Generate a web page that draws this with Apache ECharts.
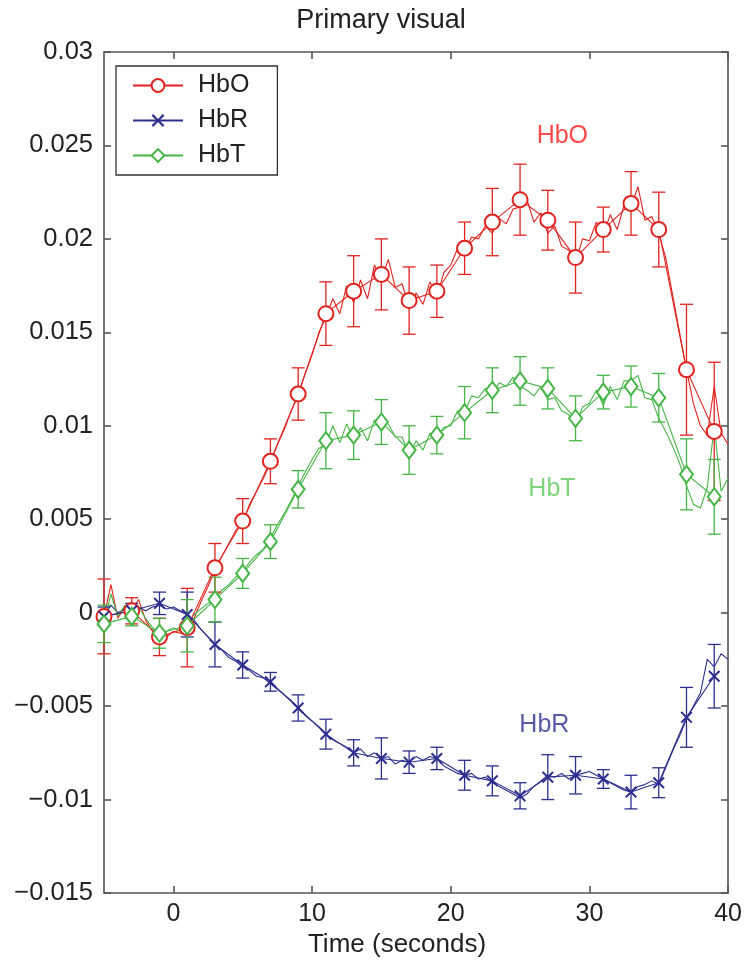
<!DOCTYPE html>
<html>
<head>
<meta charset="utf-8">
<script src="https://cdn.jsdelivr.net/npm/echarts@6/dist/echarts.min.js"></script>
<style>html,body{margin:0;padding:0;background:#fff}#c{width:745px;height:969px}</style>
</head>
<body>
<div id="c"></div>
<script>
// ---- data ----
const titleText = 'Primary visual';
const xName = 'Time (seconds)';
const seriesNames = ['HbO', 'HbR', 'HbT'];
const xTicks = [0, 10, 20, 30, 40];

// sampled every 2 s (markers + error bars)
const markerTime = [-5,-3,-1,1,3,5,7,9,11,13,15,17,19,21,23,25,27,29,31,33,35,37,39];
const hboMean = [-0.0002,0.0001,-0.0013,-0.0008,0.0024,0.0049,0.0081,0.0117,0.0160,0.0172,0.0181,0.0167,0.0172,0.0195,0.0209,0.0221,0.0210,0.0190,0.0205,0.0219,0.0205,0.0130,0.0097];
const hboErr  = [0.0020,0.0007,0.0010,0.0021,0.0013,0.0012,0.0012,0.0014,0.0017,0.0019,0.0019,0.0018,0.0014,0.0014,0.0018,0.0019,0.0016,0.0019,0.0012,0.0017,0.0020,0.0035,0.0037];
const hbrMean = [-0.0002,0.0001,0.0005,-0.0001,-0.0017,-0.0028,-0.0037,-0.0051,-0.0065,-0.0075,-0.0078,-0.0080,-0.0078,-0.0087,-0.0090,-0.0098,-0.0088,-0.0087,-0.0089,-0.0096,-0.0091,-0.0056,-0.0034];
const hbrErr  = [0.0005,0.0004,0.0006,0.0012,0.0012,0.0007,0.0005,0.0007,0.0008,0.0007,0.0011,0.0006,0.0006,0.0008,0.0008,0.0007,0.0012,0.0010,0.0005,0.0009,0.0008,0.0016,0.0017];
const hbtMean = [-0.0006,-0.0002,-0.0011,-0.0007,0.0007,0.0021,0.0038,0.0066,0.0092,0.0095,0.0102,0.0087,0.0095,0.0107,0.0119,0.0124,0.0120,0.0104,0.0118,0.0121,0.0115,0.0074,0.0062];
const hbtErr  = [0.0010,0.0005,0.0008,0.0014,0.0012,0.0008,0.0009,0.0010,0.0015,0.0013,0.0012,0.0013,0.0010,0.0014,0.0012,0.0013,0.0011,0.0012,0.0009,0.0011,0.0013,0.0019,0.0020];

// raw traces, every 0.5 s from -5 to 40
const rawStart = -5, rawStep = 0.5;
const hboRaw = [
 -0.0002,0.0015,-0.0003,0.0003,0.0001,0.0007,-0.0004,-0.0010,-0.0012,-0.0013,
 -0.0010,-0.0011,-0.0007,-0.0003,0.0006,0.0014,0.0023,0.0030,0.0037,0.0044,
 0.0048,0.0058,0.0065,0.0072,0.0080,0.0090,0.0098,0.0108,0.0116,0.0128,
 0.0138,0.0150,0.0158,0.0168,0.0160,0.0175,0.0166,0.0178,0.0168,0.0186,
 0.0178,0.0189,0.0174,0.0176,0.0163,0.0171,0.0165,0.0177,0.0169,0.0182,
 0.0186,0.0195,0.0193,0.0201,0.0200,0.0207,0.0203,0.0211,0.0208,0.0216,
 0.0217,0.0221,0.0209,0.0214,0.0203,0.0207,0.0196,0.0194,0.0187,0.0200,
 0.0199,0.0209,0.0202,0.0213,0.0205,0.0218,0.0217,0.0228,0.0210,0.0212,
 0.0203,0.0190,0.0170,0.0150,0.0130,0.0112,0.0100,0.0095,0.0121,0.0096,
 0.0090];
const hbrRaw = [
 -0.0002,0.0004,0.0000,0.0002,0.0002,0.0003,0.0001,0.0003,0.0004,0.0002,
 0.0003,0.0001,-0.0001,-0.0004,-0.0009,-0.0013,-0.0017,-0.0020,-0.0024,-0.0026,
 -0.0029,-0.0031,-0.0034,-0.0035,-0.0038,-0.0041,-0.0044,-0.0047,-0.0051,-0.0055,
 -0.0058,-0.0061,-0.0065,-0.0068,-0.0070,-0.0072,-0.0075,-0.0073,-0.0077,-0.0075,
 -0.0078,-0.0077,-0.0081,-0.0079,-0.0080,-0.0077,-0.0079,-0.0077,-0.0078,-0.0082,
 -0.0084,-0.0086,-0.0087,-0.0086,-0.0089,-0.0088,-0.0091,-0.0093,-0.0095,-0.0097,
 -0.0099,-0.0097,-0.0093,-0.0090,-0.0087,-0.0088,-0.0086,-0.0089,-0.0087,-0.0086,
 -0.0085,-0.0087,-0.0089,-0.0091,-0.0093,-0.0095,-0.0096,-0.0093,-0.0092,-0.0090,
 -0.0092,-0.0083,-0.0074,-0.0066,-0.0057,-0.0050,-0.0043,-0.0025,-0.0029,-0.0022,
 -0.0025];
const hbtRaw = [
 -0.0006,0.0010,-0.0002,0.0004,-0.0001,0.0003,-0.0003,-0.0008,-0.0011,-0.0010,
 -0.0008,-0.0010,-0.0006,-0.0001,0.0002,0.0005,0.0008,0.0012,0.0015,0.0019,
 0.0022,0.0027,0.0031,0.0034,0.0040,0.0047,0.0053,0.0060,0.0068,0.0075,
 0.0082,0.0088,0.0090,0.0100,0.0091,0.0101,0.0093,0.0099,0.0092,0.0103,
 0.0102,0.0101,0.0094,0.0094,0.0084,0.0092,0.0087,0.0096,0.0094,0.0099,
 0.0100,0.0108,0.0107,0.0116,0.0115,0.0120,0.0117,0.0123,0.0121,0.0126,
 0.0121,0.0119,0.0116,0.0121,0.0114,0.0115,0.0108,0.0106,0.0100,0.0110,
 0.0112,0.0119,0.0111,0.0121,0.0114,0.0124,0.0124,0.0127,0.0115,0.0114,
 0.0104,0.0097,0.0089,0.0080,0.0068,0.0058,0.0056,0.0067,0.0100,0.0065,
 0.0072];

// in-plot text labels (data coordinates)
const noteText = ['HbO', 'HbT', 'HbR'];
const noteX = [28.05, 27.3, 26.75];
const noteY = [0.0255, 0.0066, -0.0060];

// ---- styles ----
const colors = { HbO: '#e0231f', HbR: '#2c2f8e', HbT: '#45b545' };
const noteColors = ['#ff1a1a', '#5cc95a', '#2c2f8e'];
const FONT = 'Liberation Sans, Arial, sans-serif';
const xSymbol = 'path://M0,1.2L1.2,0L5,3.8L8.8,0L10,1.2L6.2,5L10,8.8L8.8,10L5,6.2L1.2,10L0,8.8L3.8,5Z';

function pairs(ts, vs) { return ts.map((t, i) => [t, vs[i]]); }
function rawPairs(vs) { return vs.map((v, i) => [rawStart + i * rawStep, v]); }
function errData(ts, m, e) { return ts.map((t, i) => [t, m[i] - e[i], m[i] + e[i]]); }

function errSeries(name, ts, m, e) {
  return {
    type: 'custom', name: name + ' err', silent: true, z: 3,
    data: errData(ts, m, e),
    encode: { x: 0, y: [1, 2] },
    renderItem: function (params, api) {
      const lo = api.coord([api.value(0), api.value(1)]);
      const hi = api.coord([api.value(0), api.value(2)]);
      const w = 6.5;
      const st = { stroke: colors[name], lineWidth: 1.3, fill: null };
      return {
        type: 'group', children: [
          { type: 'line', shape: { x1: lo[0], y1: lo[1], x2: hi[0], y2: hi[1] }, style: st },
          { type: 'line', shape: { x1: lo[0] - w, y1: lo[1], x2: lo[0] + w, y2: lo[1] }, style: st },
          { type: 'line', shape: { x1: hi[0] - w, y1: hi[1], x2: hi[0] + w, y2: hi[1] }, style: st }
        ]
      };
    }
  };
}

function rawSeries(name, vs) {
  return {
    type: 'line', name: name + ' raw', data: rawPairs(vs), showSymbol: false, symbol: 'none',
    silent: true, z: 2, lineStyle: { color: colors[name], width: 1.1 }, animation: false
  };
}

function markSeries(name, vs, symbol, size) {
  const isX = name === 'HbR';
  return {
    type: 'line', name: name, data: pairs(markerTime, vs), symbol: symbol, symbolSize: size,
    showAllSymbol: true, z: 4,
    lineStyle: { color: colors[name], width: 1.1 },
    itemStyle: isX ? { color: colors[name] } : { color: colors[name], borderColor: colors[name], borderWidth: 1.1 },
    animation: false
  };
}

const chart = echarts.init(document.getElementById('c'), null, { renderer: 'canvas' });
const axisLineStyle = { color: '#555', width: 1.6 };
const labelFmt = v => (+(+v).toFixed(4)).toString().replace('-', '\u2212');

chart.setOption({
  backgroundColor: '#fff',
  animation: false,
  title: {
    text: titleText, left: 376, top: 2, textAlign: 'center',
    textStyle: { fontFamily: FONT, fontSize: 27, fontWeight: 'normal', color: '#222' }
  },
  grid: { left: 104, right: 16, top: 52, bottom: 76, containLabel: false },
  legend: {
    data: seriesNames, orient: 'vertical', left: 116, top: 66,
    backgroundColor: '#fff', borderColor: '#333', borderWidth: 1.3,
    padding: [6, 28, 6, 16], itemWidth: 50, itemHeight: 16, itemGap: 8,
    textStyle: { fontFamily: FONT, fontSize: 25, color: '#222', lineHeight: 27, padding: [0, 0, 0, 10] }
  },
  xAxis: [
    {
      type: 'value', min: -5, max: 40, interval: 5, position: 'bottom',
      name: xName, nameLocation: 'middle', nameGap: 38,
      nameTextStyle: { fontFamily: FONT, fontSize: 26, color: '#222', padding: [0, 38, 0, 0] },
      axisLine: { show: true, onZero: false, lineStyle: axisLineStyle },
      axisTick: { show: true, inside: true, length: 7, customValues: xTicks, lineStyle: axisLineStyle },
      axisLabel: { show: true, customValues: xTicks, fontFamily: FONT, fontSize: 25, color: '#222', margin: 9 },
      splitLine: { show: false }
    },
    {
      type: 'value', min: -5, max: 40, interval: 5, position: 'top',
      axisLine: { show: true, onZero: false, lineStyle: axisLineStyle },
      axisTick: { show: true, inside: true, length: 7, customValues: xTicks, lineStyle: axisLineStyle },
      axisLabel: { show: false }, splitLine: { show: false }
    }
  ],
  yAxis: [
    {
      type: 'value', min: -0.015, max: 0.03, interval: 0.005, position: 'left',
      axisLine: { show: true, onZero: false, lineStyle: axisLineStyle },
      axisTick: { show: true, inside: true, length: 7, lineStyle: axisLineStyle },
      axisLabel: { fontFamily: FONT, fontSize: 25.5, color: '#222', margin: 11, formatter: labelFmt },
      splitLine: { show: false }
    },
    {
      type: 'value', min: -0.015, max: 0.03, interval: 0.005, position: 'right',
      axisLine: { show: true, onZero: false, lineStyle: axisLineStyle },
      axisTick: { show: true, inside: true, length: 7, lineStyle: axisLineStyle },
      axisLabel: { show: false }, splitLine: { show: false }
    }
  ],
  series: [
    rawSeries('HbO', hboRaw),
    rawSeries('HbR', hbrRaw),
    rawSeries('HbT', hbtRaw),
    errSeries('HbO', markerTime, hboMean, hboErr),
    errSeries('HbR', markerTime, hbrMean, hbrErr),
    errSeries('HbT', markerTime, hbtMean, hbtErr),
    markSeries('HbO', hboMean, 'emptyCircle', 15),
    markSeries('HbR', hbrMean, xSymbol, 12),
    markSeries('HbT', hbtMean, 'emptyDiamond', [13, 17]),
    {
      type: 'scatter', name: 'notes', silent: true, symbolSize: 0, z: 5,
      data: noteText.map((t, i) => ({
        value: [noteX[i], noteY[i]],
        label: { show: true, position: 'inside', formatter: t, color: noteColors[i],
                 fontFamily: FONT, fontSize: 25 }
      }))
    }
  ]
});
</script>
</body>
</html>
